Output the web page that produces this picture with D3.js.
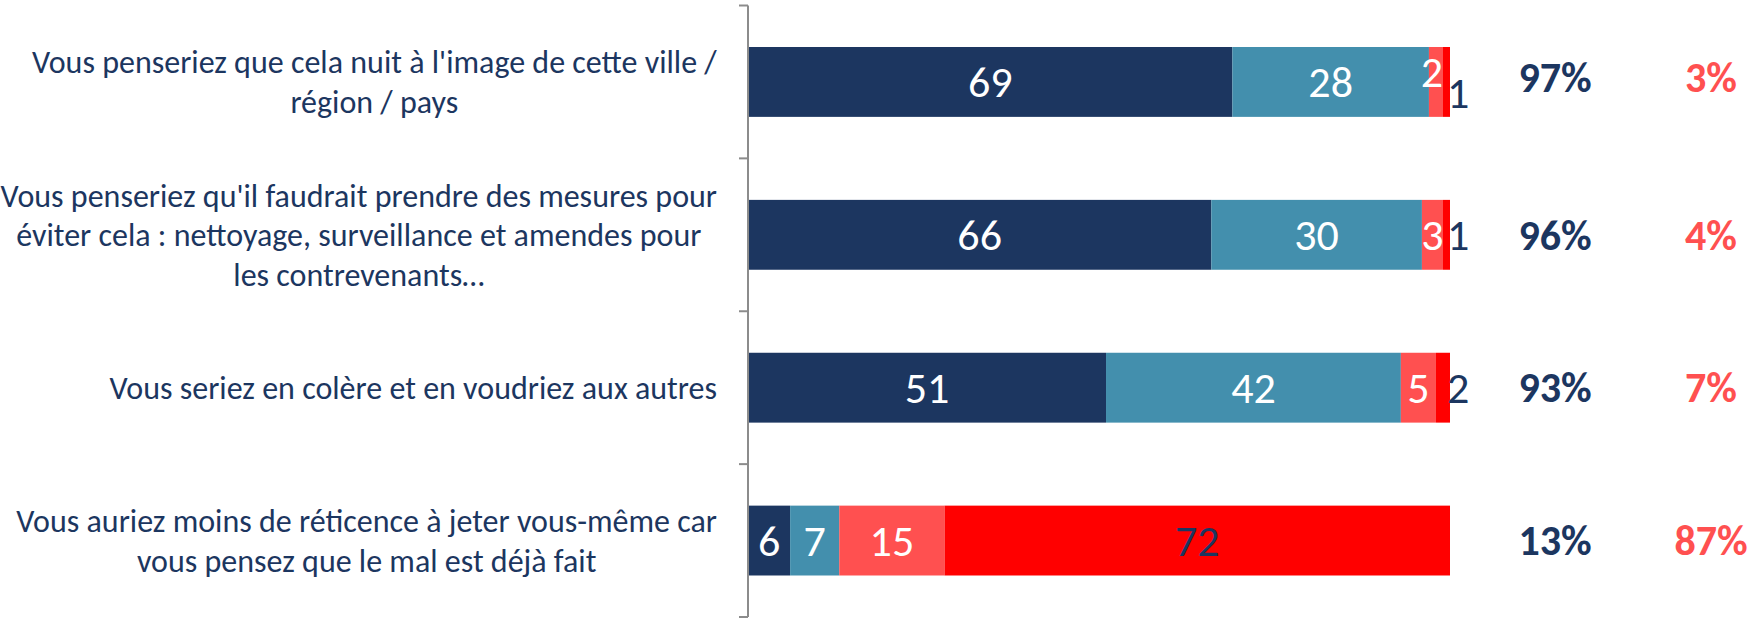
<!DOCTYPE html>
<html>
<head>
<meta charset="utf-8">
<script src="https://cdn.jsdelivr.net/npm/d3@7"></script>
<style>
  body { margin: 0; background: #fff; }
  svg { display: block; }
  text { font-family: Carlito, Calibri, "Liberation Sans Narrow", "Open Sans", sans-serif; }
</style>
</head>
<body>
<div id="chart"></div>
<script>
// categories (line breaks as in the original)
const categories = [
  "Vous penseriez que cela nuit à l'image de cette ville /\nrégion / pays",
  "Vous penseriez qu'il faudrait prendre des mesures pour\néviter cela : nettoyage, surveillance et amendes pour\nles contrevenants…",
  "Vous seriez en colère et en voudriez aux autres",
  "Vous auriez moins de réticence à jeter vous-même car\nvous pensez que le mal est déjà fait"
];

// series values (stacked)
const toutAFait = [69, 66, 51, 6];
const plutot = [28, 30, 42, 7];
const plutotPas = [2, 3, 5, 15];
const pasDuTout = [1, 1, 2, 72];

// totals shown on the right
const totalOui = ["97%", "96%", "93%", "13%"];
const totalNon = ["3%", "4%", "7%", "87%"];

const series = [toutAFait, plutot, plutotPas, pasDuTout];
const colors = ["#1c3660", "#438fad", "#ff5050", "#ff0000"];
const labelColors = ["#fff", "#fff", "#fff", "#1c3660"];

const width = 1754, height = 621;

const svg = d3.select("#chart").append("svg")
    .attr("width", width)
    .attr("height", height);

const x = d3.scaleLinear().domain([0, 100]).range([748, 1450]);
const y = d3.scaleBand()
    .domain(categories)
    .range([5.5, 617])
    .paddingInner(0.543)
    .paddingOuter(0.2715);

// stacked data
const rows = categories.map((c, i) => {
    let acc = 0;
    return series.map((s, k) => {
        const d = { cat: c, k: k, v: s[i], x0: acc, x1: acc + s[i] };
        acc += s[i];
        return d;
    });
});

// bars
const g = svg.append("g");
rows.forEach(r => {
    g.selectAll(null)
        .data(r)
        .enter()
        .append("rect")
        .attr("x", d => x(d.x0))
        .attr("y", d => y(d.cat))
        .attr("width", d => x(d.x1) - x(d.x0))
        .attr("height", y.bandwidth())
        .attr("fill", d => colors[d.k]);
});

// value labels
rows.forEach((r, i) => {
    r.forEach(d => {
        let lx = (x(d.x0) + x(d.x1)) / 2;
        let ly = y(d.cat) + y.bandwidth() / 2;
        let anchor = "middle";
        // tiny last segment: label pushed past the bar end
        if (d.k === 3 && d.v < 5) {
            lx = x(d.x1) - 3;
            anchor = "start";
        }
        // two tiny segments side by side: stagger them
        if (d.v <= 2 && r[2].v <= 2) {
            if (d.k === 2) { ly -= 10; lx -= 4; }
            if (d.k === 3) ly += 11;
        }
        svg.append("text")
            .attr("x", lx)
            .attr("y", ly)
            .attr("dy", "0.35em")
            .attr("text-anchor", anchor)
            .attr("fill", labelColors[d.k])
            .style("font-size", "44px")
            .text(d.v);
    });
});

// axis line and ticks at the band boundaries
const axis = svg.append("g").attr("stroke", "#8c8c8c").attr("stroke-width", 2);
axis.append("line")
    .attr("x1", x(0)).attr("x2", x(0))
    .attr("y1", y.range()[0]).attr("y2", y.range()[1]);
d3.range(categories.length + 1).forEach(i => {
    const ty = y.range()[0] + i * y.step();
    axis.append("line")
        .attr("x1", x(0) - 9).attr("x2", x(0))
        .attr("y1", ty).attr("y2", ty);
});

// category labels, lines centred on each other, block right-aligned to the axis
categories.forEach(c => {
    const lines = c.split("\n");
    const t = svg.append("text")
        .attr("fill", "#1c3660")
        .attr("text-anchor", "middle")
        .style("font-size", "32px");
    const lh = 39.5;
    const cy = y(c) + y.bandwidth() / 2;
    lines.forEach((l, j) => {
        t.append("tspan")
            .attr("x", 0)
            .attr("y", cy + (j - (lines.length - 1) / 2) * lh)
            .attr("dy", "0.35em")
            .text(l);
    });
    const w = t.node().getBBox().width;
    t.attr("transform", `translate(${717 - w / 2},0)`);
});

// totals
categories.forEach((c, i) => {
    const cy = y(c) + y.bandwidth() / 2 - (i === 0 ? 5 : 0);
    svg.append("text")
        .attr("x", 1555).attr("y", cy).attr("dy", "0.35em")
        .attr("text-anchor", "middle")
        .attr("fill", "#1c3660")
        .style("font-size", "42px").style("font-weight", "bold")
        .text(totalOui[i]);
    svg.append("text")
        .attr("x", 1711).attr("y", cy).attr("dy", "0.35em")
        .attr("text-anchor", "middle")
        .attr("fill", "#ff5050")
        .style("font-size", "42px").style("font-weight", "bold")
        .text(totalNon[i]);
});
</script>
</body>
</html>
